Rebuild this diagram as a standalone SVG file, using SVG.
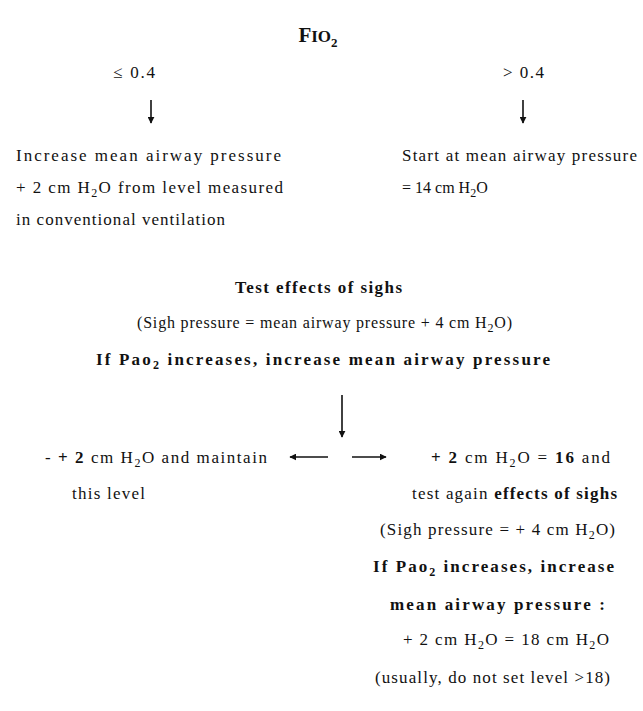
<svg xmlns="http://www.w3.org/2000/svg" width="643" height="711" viewBox="0 0 643 711">
<style>
text{font-family:"Liberation Serif","Times New Roman",serif;font-size:17px;fill:#111}
.b{font-weight:bold}
.sub{font-size:12px}
.s16{font-size:16px}
.conn line{stroke:#111;stroke-width:1.6}
</style>
<defs>
<marker id="ah" viewBox="0 0 10 10" refX="9" refY="5" markerWidth="7" markerHeight="7" markerUnits="userSpaceOnUse" orient="auto">
<path d="M0,0 L10,5 L0,10 z" fill="#111"/>
</marker>
</defs>
<rect width="643" height="711" fill="#fff"/>
<g id="title"><text x="318" y="42" text-anchor="middle" class="b" style="font-size:21px">F<tspan style="font-size:17px">IO</tspan><tspan dy="5" style="font-size:13px">2</tspan></text></g>
<g id="low"><text x="113" y="78" textLength="42" lengthAdjust="spacing">≤ 0.4</text></g>
<g id="high"><text x="503" y="78" textLength="41" lengthAdjust="spacing">&gt; 0.4</text></g>
<g id="leftBox">
<text x="16" y="161" textLength="265" lengthAdjust="spacing">Increase mean airway pressure</text>
<text x="16" y="193" textLength="267" lengthAdjust="spacing">+ 2 cm H<tspan class="sub" dy="4">2</tspan><tspan dy="-4">O from level measured</tspan></text>
<text x="16" y="225" textLength="209" lengthAdjust="spacing">in conventional ventilation</text>
</g>
<g id="rightBox">
<text x="402" y="161" textLength="235" lengthAdjust="spacing">Start at mean airway pressure</text>
<text x="402" y="193" class="s16">= 14 cm H<tspan class="sub" dy="4">2</tspan><tspan dy="-4">O</tspan></text>
</g>
<g id="test">
<text x="235" y="293" class="b" textLength="167" lengthAdjust="spacing">Test effects of sighs</text>
<text x="137" y="328" class="s16" textLength="375" lengthAdjust="spacing">(Sigh pressure = mean airway pressure + 4 cm H<tspan class="sub" dy="4">2</tspan><tspan dy="-4">O)</tspan></text>
<text x="96" y="365" class="b" textLength="454" lengthAdjust="spacing">If Pao<tspan class="sub" dy="4">2</tspan><tspan dy="-4"> increases, increase mean airway pressure</tspan></text>
</g>
<g id="maintain">
<text x="45" y="463" textLength="222" lengthAdjust="spacing">- <tspan class="b">+ 2</tspan> cm H<tspan class="sub" dy="4">2</tspan><tspan dy="-4">O and maintain</tspan></text>
<text x="72" y="499" textLength="73" lengthAdjust="spacing">this level</text>
</g>
<g id="increase">
<text x="431" y="463" textLength="179" lengthAdjust="spacing"><tspan class="b">+ 2</tspan> cm H<tspan class="sub" dy="4">2</tspan><tspan dy="-4">O = </tspan><tspan class="b">16</tspan> and</text>
<text x="412" y="499" textLength="205" lengthAdjust="spacing">test again <tspan class="b">effects of sighs</tspan></text>
<text x="380" y="535" textLength="235" lengthAdjust="spacing">(Sigh pressure = + 4 cm H<tspan class="sub" dy="4">2</tspan><tspan dy="-4">O)</tspan></text>
<text x="373" y="572" class="b" textLength="241" lengthAdjust="spacing">If Pao<tspan class="sub" dy="4">2</tspan><tspan dy="-4"> increases, increase</tspan></text>
<text x="390" y="610" class="b" textLength="215" lengthAdjust="spacing">mean airway pressure :</text>
<text x="403" y="645" textLength="206" lengthAdjust="spacing">+ 2 cm H<tspan class="sub" dy="4">2</tspan><tspan dy="-4">O = 18 cm H</tspan><tspan class="sub" dy="4">2</tspan><tspan dy="-4">O</tspan></text>
<text x="375" y="683" textLength="235" lengthAdjust="spacing">(usually, do not set level &gt;18)</text>
</g>
<g id="connectors" class="conn">
<line x1="151" y1="100" x2="151" y2="123" marker-end="url(#ah)"/>
<line x1="523" y1="100" x2="523" y2="123" marker-end="url(#ah)"/>
<line x1="342" y1="395" x2="342" y2="437" marker-end="url(#ah)"/>
<line x1="328" y1="457" x2="290" y2="457" marker-end="url(#ah)"/>
<line x1="352" y1="457" x2="386" y2="457" marker-end="url(#ah)"/>
</g>
</svg>
